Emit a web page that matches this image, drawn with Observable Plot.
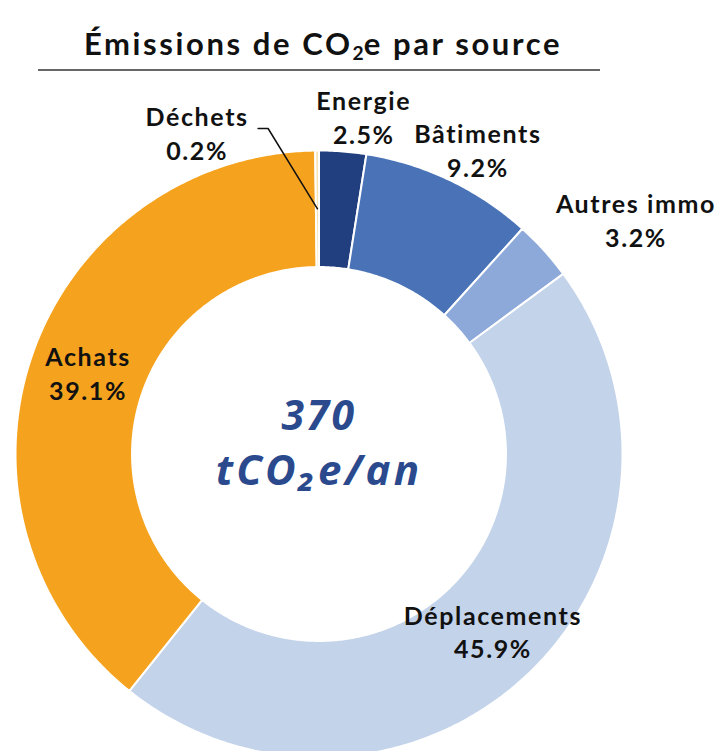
<!DOCTYPE html>
<html><head><meta charset="utf-8">
<script src="https://cdn.jsdelivr.net/npm/d3@7"></script>
<script src="https://cdn.jsdelivr.net/npm/@observablehq/plot@0.6"></script>
<style>
body{margin:0;background:#fff;}
#head{position:relative;width:720px;height:80px;}
#title{position:absolute;left:0;top:24px;width:646px;text-align:center;font-family:Lato,sans-serif;font-weight:bold;font-size:31px;letter-spacing:2.6px;color:#111;white-space:nowrap;}
#title sub{font-size:0.62em;vertical-align:-0.25em;line-height:0;letter-spacing:0;}
#rule{position:absolute;left:38px;top:69px;width:562px;height:2px;background:#666;}
#chart svg{display:block;}
</style></head>
<body>
<div id="head"><div id="title">Émissions de CO<sub>2</sub>e par source</div><div id="rule"></div></div>
<div id="chart"></div>
<script>
// ---- data ----
const categories = ["Energie", "Bâtiments", "Autres immo", "Déplacements", "Achats", "Déchets"];
const shares = [2.5, 9.2, 3.2, 45.9, 39.1, 0.2];
const colors = ["#213F7F", "#4A72B7", "#8DA9D9", "#C3D3EA", "#F5A31E", "#F8E3B2"];
const totalValue = "370";
const unitLabel = "tCO₂e/an";

// ---- layout (not data) ----
const R0 = 0.616;            // inner radius / outer radius
const Rpx = 303.5;           // pixels per data unit
const labelLayout = {
  "Energie":      {r: 1, dx: 21, dy: -35},
  "Bâtiments":    {r: 1, dx: 28, dy: -31},
  "Autres immo":  {r: 1, dx: 92, dy: -31},
  "Déplacements": {r: (1 + R0) / 2, dx: 4, dy: 0},
  "Achats":       {r: (1 + R0) / 2, dx: 1, dy: -2},
  "Déchets":      {r: 1, dx: -120, dy: -18}
};

const total = d3.sum(shares);
let acc = 0;
const slices = categories.map((name, i) => {
  const a0 = acc / total * 2 * Math.PI;
  acc += shares[i];
  const a1 = acc / total * 2 * Math.PI;
  return {name, value: shares[i], a0, a1, mid: (a0 + a1) / 2};
});

// ring polygons sampled along the arcs
const ringPts = slices.flatMap(s => {
  const n = Math.max(2, Math.ceil((s.a1 - s.a0) / (Math.PI / 360)));
  const angs = d3.range(n + 1).map(k => s.a0 + (s.a1 - s.a0) * k / n);
  const outer = angs.map(a => ({name: s.name, x: Math.sin(a), y: Math.cos(a)}));
  const inner = angs.slice().reverse().map(a => ({name: s.name, x: R0 * Math.sin(a), y: R0 * Math.cos(a)}));
  return outer.concat(inner);
});

const fmt = d3.format(".1f");
const labels = slices.map(s => {
  const L = labelLayout[s.name];
  return {
    name: s.name,
    text: s.name + "\n" + fmt(s.value) + "%",
    x: L.r * Math.sin(s.mid) + L.dx / Rpx,
    y: L.r * Math.cos(s.mid) - L.dy / Rpx
  };
});

// leader line for the tiny slice
const small = slices[slices.length - 1];
const smallLab = labels[labels.length - 1];
const leader = [
  {x: smallLab.x + 61 / Rpx, y: smallLab.y + 4 / Rpx},
  {x: smallLab.x + 71 / Rpx, y: smallLab.y + 4 / Rpx},
  {x: ((1 + R0) / 2) * Math.sin(small.mid), y: ((1 + R0) / 2) * Math.cos(small.mid)}
];

const centerFont = {fontWeight: "bold", fontStyle: "italic", fontFamily: "'Open Sans', sans-serif", fill: "#2B4A8E", lineAnchor: "middle"};

const chart = Plot.plot({
  width: 720, height: 671, margin: 0,
  x: {domain: [-1, 1], range: [318.5 - Rpx, 318.5 + Rpx], axis: null},
  y: {domain: [-1, 1], range: [373.5 + Rpx, 373.5 - Rpx], axis: null},
  color: {domain: categories, range: colors},
  style: {background: "transparent", overflow: "visible"},
  marks: [
    Plot.line(ringPts, {x: "x", y: "y", z: "name", fill: "name", stroke: "white", strokeWidth: 2, curve: "linear-closed"}),
    Plot.line(leader, {x: "x", y: "y", stroke: "#111", strokeWidth: 1.5}),
    Plot.text(labels, {x: "x", y: "y", text: "text", fontSize: 25, fontWeight: "bold", fontFamily: "Lato, sans-serif", fill: "#111", lineHeight: 1.35, lineAnchor: "middle"}),
    Plot.text([totalValue], {x: () => 0, y: () => 37 / Rpx, text: d => d, fontSize: 41, ...centerFont}),
    Plot.text([unitLabel], {x: () => 0, y: () => -18 / Rpx, text: d => d, fontSize: 42, ...centerFont})
  ]
});
const groups = d3.select(chart).selectAll('g[aria-label="text"]').nodes();
if (groups[0]) groups[0].style.letterSpacing = "1.6px";
if (groups[1]) groups[1].style.letterSpacing = "2.5px";
if (groups[2]) groups[2].style.letterSpacing = "3.2px";
document.getElementById("chart").appendChild(chart);
</script>
</body></html>
